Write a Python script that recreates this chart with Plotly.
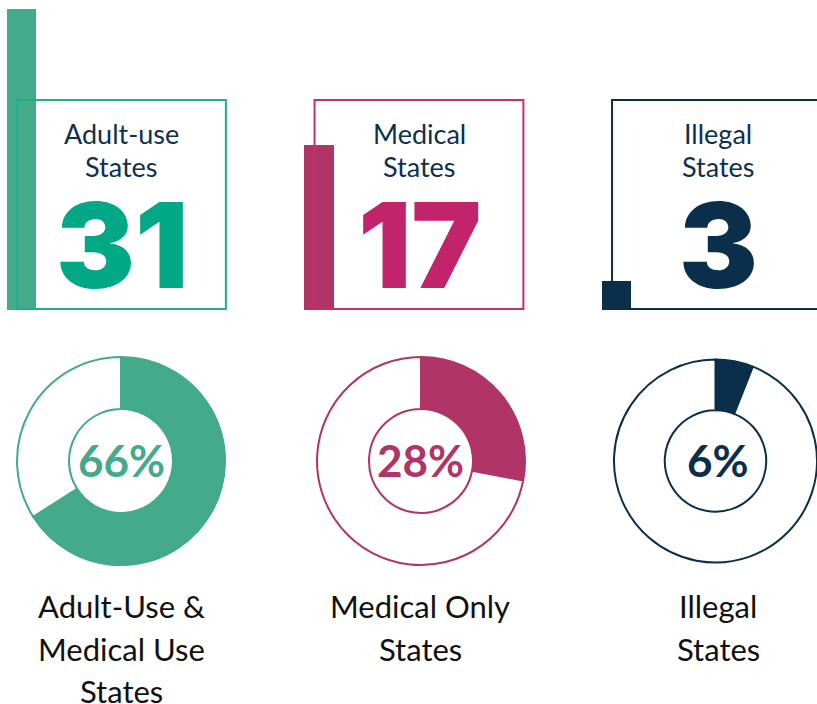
import plotly.graph_objects as go

# ---- data ----
categories = ["Adult-use States", "Medical States", "Illegal States"]
box_line1 = ["Adult-use", "Medical", "Illegal"]
box_line2 = ["States", "States", "States"]
state_counts = [31, 17, 3]
share_pct = [66, 28, 6]
donut_labels = [["Adult-Use &", "Medical Use", "States"],
                ["Medical Only", "States"],
                ["Illegal", "States"]]

# ---- styles ----
bar_colors = ["#43aa8b", "#b03566", "#0b2e4a"]
num_colors = ["#00a886", "#c1246b", "#0b2e4a"]
box_colors = ["#1db08e", "#c72e6e", "#0b2e4a"]
navy = "#0d3050"

W, H = 817, 704


def py(px):
    return 1 - px / H


def pxx(px):
    return px / W


fig = go.Figure()

xs = list(range(len(categories)))
fig.add_trace(go.Bar(x=xs, y=state_counts, width=0.1,
                     marker=dict(color=bar_colors, line=dict(width=0)),
                     hoverinfo="skip", showlegend=False))

shapes = []
annotations = []
for i in xs:
    shapes.append(dict(type="rect", xref="x", yref="paper",
                       x0=i - 0.015, x1=i + 0.687, y0=py(309), y1=py(100),
                       line=dict(color=box_colors[i], width=2),
                       fillcolor="rgba(0,0,0,0)", layer="above"))

# text positions (pixel centres)
box_cx = [121.5, 419.5, 718]
donut_cx = [121, 420.5, 718]
for i in xs:
    annotations.append(dict(xref="paper", yref="paper", x=pxx(box_cx[i]), y=py(133),
                            text=box_line1[i], showarrow=False, xanchor="center", yanchor="middle",
                            font=dict(family="Lato", size=27, color=navy)))
    annotations.append(dict(xref="paper", yref="paper", x=pxx(box_cx[i]), y=py(166),
                            text=box_line2[i], showarrow=False, xanchor="center", yanchor="middle",
                            font=dict(family="Lato", size=27, color=navy)))
    annotations.append(dict(xref="paper", yref="paper", x=pxx(box_cx[i]), y=py(245),
                            text=str(state_counts[i]), showarrow=False, xanchor="center", yanchor="middle",
                            font=dict(family="Inter", size=118, color=num_colors[i], weight=900)))
    annotations.append(dict(xref="paper", yref="paper", x=pxx(donut_cx[i]), y=py(460),
                            text=f"{share_pct[i]}%", showarrow=False, xanchor="center", yanchor="middle",
                            font=dict(family="Lato", size=44, color=bar_colors[i], weight=700)))
    for j, line in enumerate(donut_labels[i]):
        annotations.append(dict(xref="paper", yref="paper", x=pxx(donut_cx[i]), y=py(606 + 42.5 * j),
                                text=line, showarrow=False, xanchor="center", yanchor="middle",
                                font=dict(family="Lato", size=31, color="#111111")))

# donuts (pixel boxes)
donut_domains = [([17, 225], [357, 565]), ([317, 525], [357, 565]), ([614, 822], [357, 565])]
for i in xs:
    (x0, x1), (y0, y1) = donut_domains[i]
    fig.add_trace(go.Pie(values=[share_pct[i], 100 - share_pct[i]], hole=0.5, sort=False,
                         direction="clockwise", rotation=0,
                         marker=dict(colors=[bar_colors[i], "white"],
                                     line=dict(color=bar_colors[i], width=2)),
                         textinfo="none", hoverinfo="skip", showlegend=False,
                         domain=dict(x=[max(0, pxx(x0)), min(1, pxx(x1))], y=[py(y1), py(y0)])))

unit_px = 9.7
bar_base_px = 310
x_unit_px = 297.5
x0_px = 21.5
fig.update_layout(
    width=W, height=H, margin=dict(l=0, r=0, t=0, b=0, pad=0),
    paper_bgcolor="white", plot_bgcolor="rgba(0,0,0,0)",
    xaxis=dict(domain=[0, 1], range=[-x0_px / x_unit_px, (W - x0_px) / x_unit_px], showgrid=False,
               zeroline=False, showticklabels=False, ticks="", showline=False, fixedrange=True),
    yaxis=dict(domain=[1 - bar_base_px / H, 1], range=[0, bar_base_px / unit_px], showgrid=False,
               zeroline=False, showticklabels=False, ticks="", showline=False, fixedrange=True),
    shapes=shapes, annotations=annotations, bargap=0,
)

fig.write_html("out.html", config={"displayModeBar": False, "staticPlot": True},
               post_script="document.body.style.margin='0';document.body.style.overflow='hidden';")
